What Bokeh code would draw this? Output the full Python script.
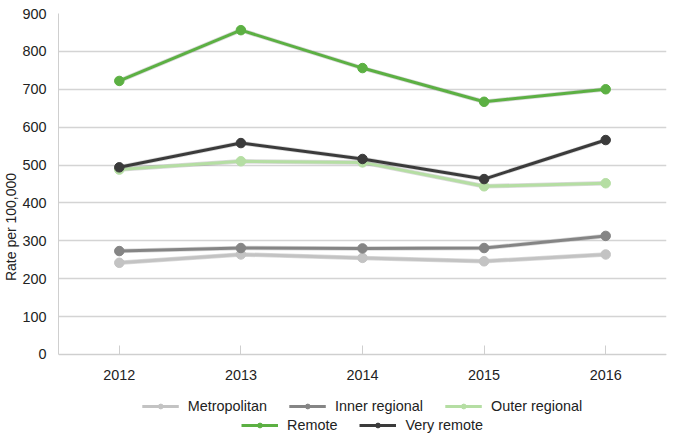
from bokeh.plotting import figure
from bokeh.models import Legend, LegendItem, FactorRange
from bokeh.embed import file_html
from bokeh.resources import INLINE

years = ["2012", "2013", "2014", "2015", "2016"]
metropolitan = [242, 264, 255, 246, 264]
inner_regional = [273, 281, 280, 281, 313]
outer_regional = [488, 510, 507, 444, 452]
remote = [722, 856, 756, 667, 700]
very_remote = [494, 558, 516, 463, 566]
y_ticks = [0, 100, 200, 300, 400, 500, 600, 700, 800, 900]

series = [
    ("Metropolitan", metropolitan, "#c3c3c3"),
    ("Inner regional", inner_regional, "#858585"),
    ("Outer regional", outer_regional, "#b5dea3"),
    ("Remote", remote, "#5cb043"),
    ("Very remote", very_remote, "#3b3b3b"),
]

FONT = "Liberation Sans"
FS = "14.4px"

# frame extends below zero to host the axis labels and the two legend rows
p = figure(width=667, height=440, x_range=FactorRange(*years), y_range=(-227, 900),
           output_backend="svg", toolbar_location=None,
           min_border_left=10, min_border_right=1, min_border_top=13, min_border_bottom=0)
p.outline_line_color = None
p.background_fill_color = "white"
p.border_fill_color = "white"

p.yaxis.ticker = y_ticks
p.yaxis.bounds = (0, 900)
p.yaxis.axis_label = "Rate per 100,000"
p.yaxis.axis_label_text_font = FONT
p.yaxis.axis_label_text_font_style = "normal"
p.yaxis.axis_label_text_font_size = "14px"
p.yaxis.axis_label_text_color = "#222222"
p.yaxis.axis_label_standoff = 0
p.yaxis.major_label_text_font = FONT
p.yaxis.major_label_text_font_size = FS
p.yaxis.major_label_text_color = "#222222"
p.yaxis.major_tick_line_color = None
p.yaxis.minor_tick_line_color = None
p.yaxis.axis_line_color = "#cfcfcf"
p.yaxis.major_label_standoff = 6

p.xaxis.fixed_location = 0
p.xaxis.major_label_text_font = FONT
p.xaxis.major_label_text_font_size = FS
p.xaxis.major_label_text_color = "#222222"
p.xaxis.axis_line_color = "#cfcfcf"
p.xaxis.major_tick_line_color = "#cfcfcf"
p.xaxis.major_tick_in = 9
p.xaxis.major_tick_out = 0
p.xaxis.major_label_standoff = 16

p.xgrid.grid_line_color = None
p.ygrid.ticker = y_ticks
p.ygrid.grid_line_color = "#d4d4d4"
p.ygrid.grid_line_width = 1.3

items = {}
for name, vals, color in series:
    p.line(years, vals, line_color="#000000", line_alpha=0.15, line_width=4.5)
    r1 = p.line(years, vals, line_color=color, line_width=3)
    r2 = p.scatter(years, vals, size=9.5, fill_color=color, line_color=color)
    items[name] = LegendItem(label=name, renderers=[r1, r2])

def make_legend(names, margin):
    lg = Legend(items=[items[n] for n in names], orientation="horizontal",
                location="bottom_center", border_line_color=None, background_fill_alpha=0,
                label_text_font=FONT, label_text_font_size=FS, label_text_color="#222222",
                glyph_width=37, glyph_height=12, spacing=22, padding=0, margin=margin,
                label_standoff=9, label_height=14)
    return lg

p.add_layout(make_legend(["Metropolitan", "Inner regional", "Outer regional"], 26), "center")
p.add_layout(make_legend(["Remote", "Very remote"], 7), "center")

open("out.html", "w").write(file_html(p, INLINE))
